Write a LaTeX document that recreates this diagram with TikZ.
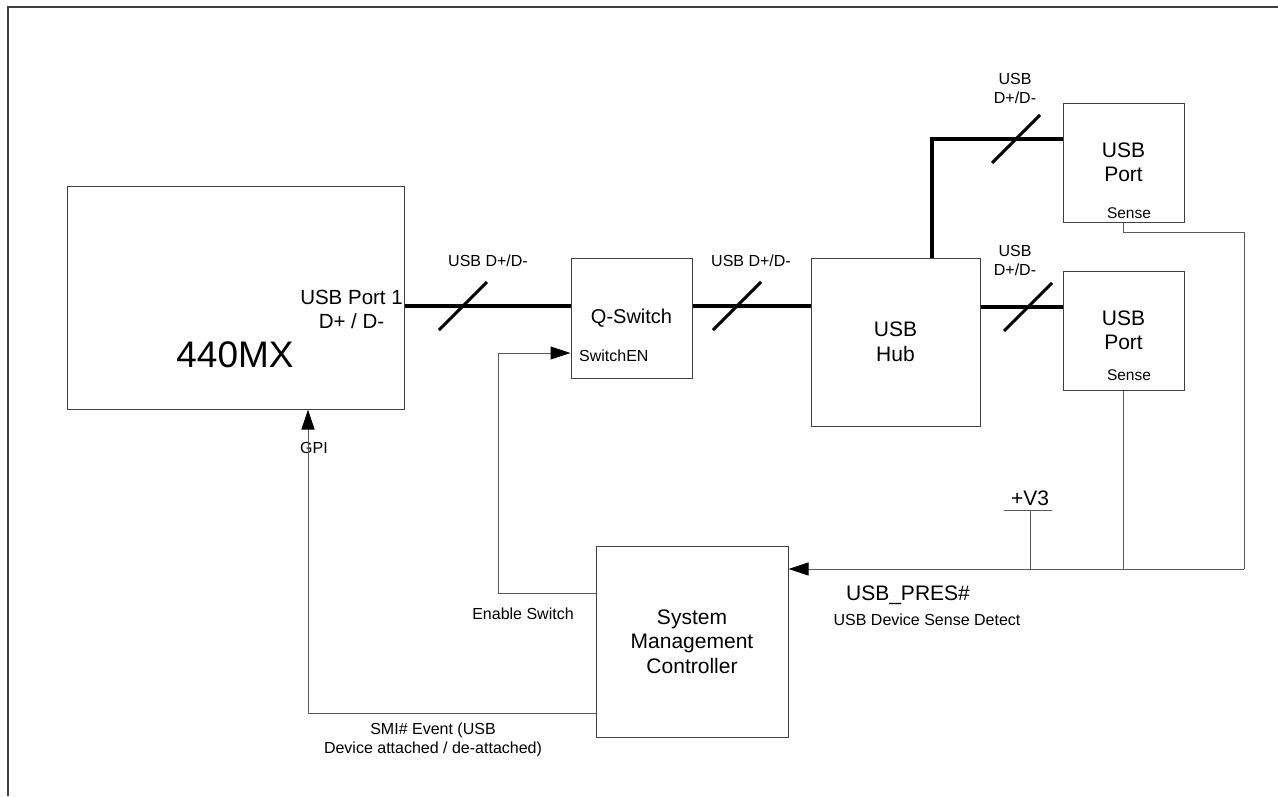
\documentclass[tikz,border=0pt]{standalone}
\usepackage{fontspec}
\setmainfont{Liberation Sans}
\usetikzlibrary{arrows.meta,positioning}

\begin{document}
\begin{tikzpicture}[x=1pt, y=-1pt,
box/.style={draw=black!75, line width=1pt, inner sep=0pt, align=center, font=\fontsize{21}{24.5}\selectfont},
lbl/.style={inner sep=0pt, align=center, font=\fontsize{16}{19}\selectfont},
big/.style={inner sep=0pt, align=center, font=\fontsize{20.5}{24}\selectfont},
bus/.style={line width=4pt},
slash/.style={line width=3pt},
wire/.style={draw=black!65, line width=1pt},
arrow/.style={wire, -{Triangle[length=20pt, width=13pt, color=black]}}
]
\useasboundingbox (0,0) rectangle (1278,796);
\draw[draw=black!75, line width=2pt] (7.5,796) |- (1278,6.5);

\node[box, minimum width=337pt, minimum height=223pt] (mx) at (235.5,297.5) {};
\node[box, minimum width=121pt, minimum height=120pt, font=\fontsize{20}{24}\selectfont] (qsw) at (631.5,318) {Q-Switch};
\node[box, minimum width=169pt, minimum height=168pt] (hub) at (895.5,342) {USB\\Hub};
\node[box, minimum width=121pt, minimum height=119pt] (porta) at (1123.5,162.5) {USB\\Port};
\node[box, minimum width=121pt, minimum height=119pt] (portb) at (1123.5,330.5) {USB\\Port};
\node[box, minimum width=192pt, minimum height=191pt] (smc) at (692,641.5) {System\\Management\\Controller};

\node[inner sep=0pt, font=\fontsize{37}{44}\selectfont] (mxname) at (235,355) {440MX};
\node[big, anchor=east] (usbp1) at (403,309) {USB Port 1\\D+ / D-};
\node[lbl] (gpi) at (314,448) {GPI};
\node[lbl, anchor=west] (swen) at (579,356) {SwitchEN};
\node[lbl, font=\fontsize{15.5}{18}\selectfont] (sensea) at (1129,213) {Sense};
\node[lbl, font=\fontsize{15.5}{18}\selectfont] (senseb) at (1129,375) {Sense};

\coordinate (busy) at (0,306);
\coordinate (s1) at (463,306);
\coordinate (s2) at (737,306);
\coordinate (s3) at (1016,139);
\coordinate (s4) at (1028,307);
\draw[bus] (mx.east |- busy) -- (qsw.west |- busy);
\draw[bus] (qsw.east |- busy) -- (hub.west |- busy);
\draw[bus] ([xshift=36.5pt]hub.north) |- ([yshift=23.5pt]porta.west);
\draw[bus] ([yshift=35pt]hub.east) -- ([yshift=23.5pt]portb.west);
\draw[slash] ([shift={(-24,24)}]s1) -- ([shift={(24,-24)}]s1);
\draw[slash] ([shift={(-24,24)}]s2) -- ([shift={(24,-24)}]s2);
\draw[slash] ([shift={(-24,24)}]s3) -- ([shift={(24,-24)}]s3);
\draw[slash] ([shift={(-24,24)}]s4) -- ([shift={(24,-24)}]s4);
\node[lbl] (bl1) at (488,261) {USB D+/D-};
\node[lbl] (bl2) at (751,261) {USB D+/D-};
\node[lbl] (bl3) at (1015,88) {USB\\D+/D-};
\node[lbl] (bl4) at (1015,260) {USB\\D+/D-};

\coordinate (presr) at (1244,569);
\coordinate (v3) at (1030,510);
\draw[wire] (porta.south) -- ++(0,10) -| (presr);
\draw[wire] (portb.south) -- (portb.south |- presr);
\draw[wire] (v3) -- (v3 |- presr);
\draw[wire] ([xshift=-26pt]v3) -- ([xshift=22pt]v3);
\node[big, above=4.5pt of v3, font=\fontsize{21}{24}\selectfont] (v3lbl) {+V3};
\draw[arrow] (presr) -- (smc.east |- presr);
\node[big, font=\fontsize{21}{24}\selectfont] (pres) at (908,595) {USB\_PRES\#};
\node[lbl] (presdet) at (927,620) {USB Device Sense Detect};

\draw[arrow] ([yshift=48.5pt]smc.west) -- ++(-97,0) |- ([yshift=-35pt]qsw.west);
\node[lbl] (ensw) at (523,614) {Enable Switch};
\draw[arrow] ([yshift=-71.5pt]smc.west) -| ([xshift=72.5pt]mx.south);
\node[lbl] (smi) at (433,740) {SMI\# Event (USB\\Device attached / de-attached)};
\end{tikzpicture}
\end{document}
